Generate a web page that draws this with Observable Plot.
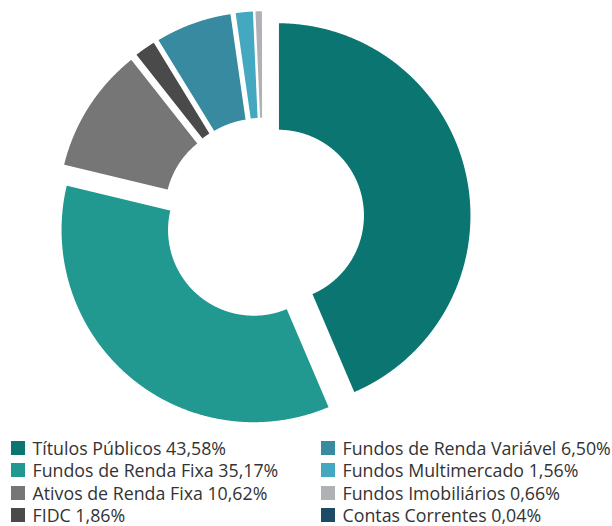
<!DOCTYPE html>
<html><head><meta charset="utf-8">
<script src="https://cdn.jsdelivr.net/npm/d3@7"></script>
<script src="https://cdn.jsdelivr.net/npm/@observablehq/plot@0.6"></script>
<style>
body{margin:0;background:#fff;font-family:"Open Sans",sans-serif;overflow:hidden;}
#chart svg{display:block;}
#legend{display:grid;grid-template-columns:310px 291px;padding-left:11px;margin-top:0.5px;}
.item{display:flex;align-items:center;height:22.5px;font-size:17.8px;color:#333;white-space:nowrap;}
.item span{line-height:18px;}
.sw{width:14px;height:14px;margin-right:7.5px;flex:none;}
</style></head><body><div id="chart"></div><div id="legend"></div><script>
const categories = ["Títulos Públicos","Fundos de Renda Fixa","Ativos de Renda Fixa","FIDC","Fundos de Renda Variável","Fundos Multimercado","Fundos Imobiliários","Contas Correntes"];
const values = [43.58,35.17,10.62,1.86,6.50,1.56,0.66,0.04];
const labels = ["43,58%","35,17%","10,62%","1,86%","6,50%","1,56%","0,66%","0,04%"];
const colors = ["#0a7571","#229990","#767676","#4a4a4a","#378aa0","#43a8c0","#b0b1b5","#1d4a66"];

const W = 612, H = 436, cx = 263, cy = 218;
const R = 193, r = 85, offset = 15;

const arcs = d3.pie().sort(null).value(d => d)(values);
const pts = [];
arcs.forEach((a, i) => {
  const mid = (a.startAngle + a.endAngle) / 2;
  const ox = offset * Math.sin(mid), oy = offset * Math.cos(mid);
  const n = Math.max(2, Math.ceil((a.endAngle - a.startAngle) / 0.004));
  const ring = [];
  for (let k = 0; k <= n; k++) { const t = a.startAngle + (a.endAngle - a.startAngle) * k / n; ring.push([ox + R * Math.sin(t), oy + R * Math.cos(t)]); }
  for (let k = n; k >= 0; k--) { const t = a.startAngle + (a.endAngle - a.startAngle) * k / n; ring.push([ox + r * Math.sin(t), oy + r * Math.cos(t)]); }
  ring.push(ring[0]);
  ring.forEach(([x, y]) => pts.push({cat: categories[i], x, y}));
});

const chart = Plot.plot({
  width: W, height: H, margin: 0,
  x: {domain: [-cx, W - cx], range: [0, W], axis: null},
  y: {domain: [-(H - cy), cy], range: [H, 0], axis: null},
  color: {domain: categories, range: colors},
  marks: [
    Plot.line(pts, {x: "x", y: "y", z: "cat", fill: "cat", stroke: "white", strokeWidth: 1.5, curve: "linear"})
  ]
});
document.getElementById("chart").append(chart);

const order = [0,4,1,5,2,6,3,7];
const leg = d3.select("#legend");
order.forEach(i => {
  const it = leg.append("div").attr("class", "item");
  it.append("div").attr("class", "sw").style("background", colors[i]);
  it.append("span").text(categories[i] + " " + labels[i]);
});
</script></body></html>
